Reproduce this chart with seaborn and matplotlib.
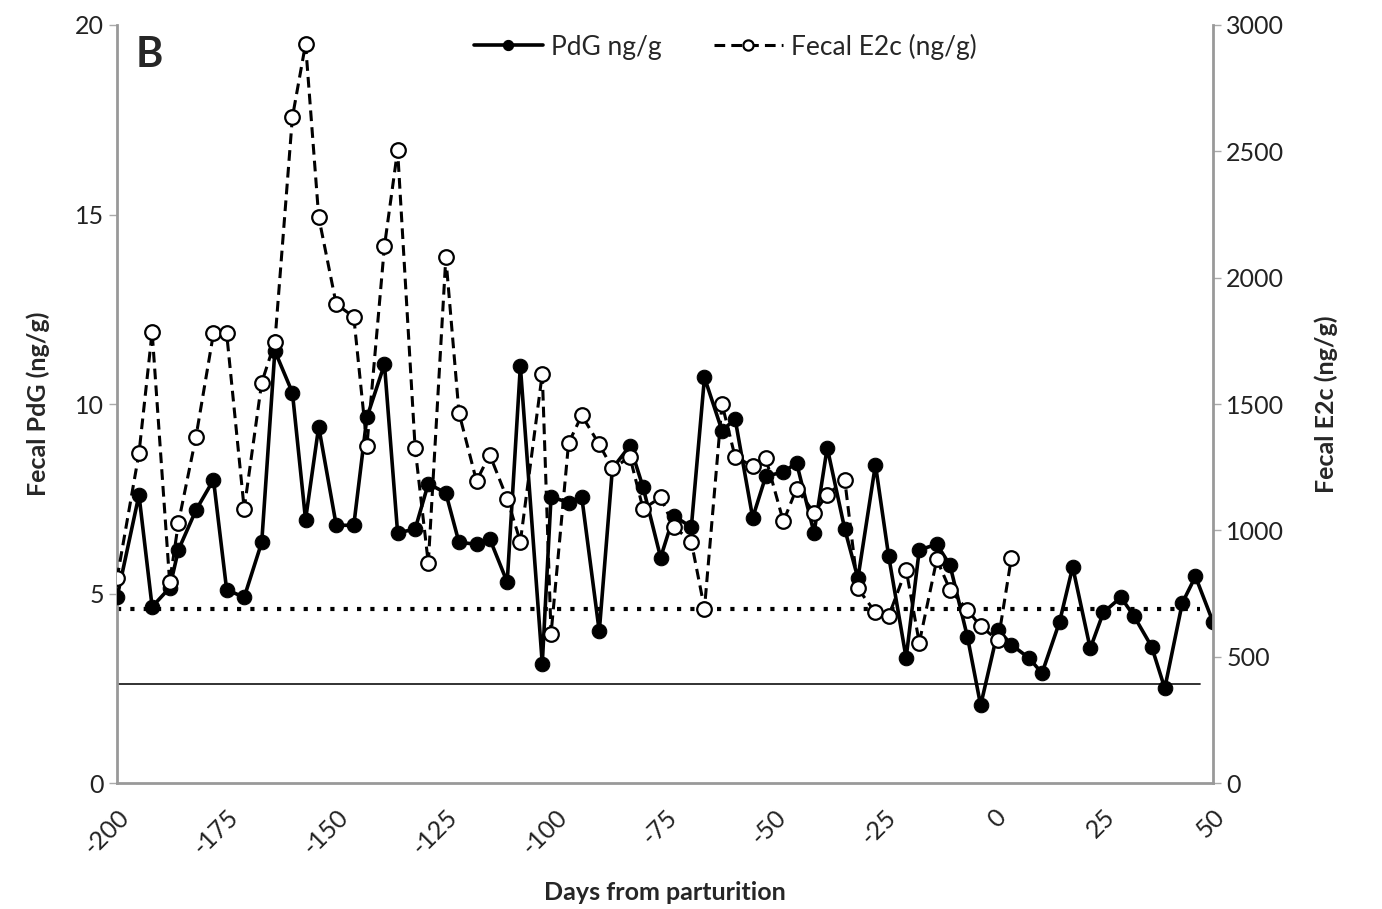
import matplotlib
matplotlib.use("Agg")
import matplotlib.pyplot as plt
import pandas as pd
import seaborn as sns

# sampling days (days from parturition)
days = [-200, -195, -192, -188, -186, -182, -178, -175, -171, -167,
        -164, -160, -157, -154, -150, -146, -143, -139, -136, -132,
        -129, -125, -122, -118, -115, -111, -108, -103, -101, -97,
        -94, -90, -87, -83, -80, -76, -73, -69, -66, -62,
        -59, -55, -52, -48, -45, -41, -38, -34, -31, -27,
        -24, -20, -17, -13, -10, -6, -3, 1, 4, 8,
        11, 15, 18, 22, 25, 29, 32, 36, 39, 43,
        46, 50]

pdg = [4.9, 7.6, 4.65, 5.15, 6.15, 7.2, 8.0, 5.1, 4.9, 6.35,
       11.4, 10.3, 6.95, 9.4, 6.8, 6.8, 9.65, 11.05, 6.6, 6.7,
       7.9, 7.65, 6.35, 6.3, 6.45, 5.3, 11.0, 3.15, 7.55, 7.4,
       7.55, 4.0, 8.3, 8.9, 7.8, 5.95, 7.05, 6.75, 10.7, 9.3,
       9.6, 7.0, 8.1, 8.2, 8.45, 6.6, 8.85, 6.7, 5.4, 8.4,
       6.0, 3.3, 6.15, 6.3, 5.75, 3.85, 2.05, 4.05, 3.65, 3.3,
       2.9, 4.25, 5.7, 3.55, 4.5, 4.9, 4.4, 3.6, 2.5, 4.75,
       5.45, 4.25]

# E2c only measured up to day 4
e2c = [810, 1305, 1785, 795, 1030, 1370, 1780, 1780, 1085, 1585,
       1745, 2635, 2925, 2240, 1895, 1845, 1335, 2125, 2505, 1325,
       870, 2080, 1465, 1195, 1300, 1125, 955, 1620, 590, 1345,
       1455, 1340, 1245, 1290, 1085, 1130, 1015, 955, 690, 1500,
       1290, 1255, 1285, 1035, 1165, 1070, 1140, 1200, 770, 675,
       660, 845, 555, 885, 765, 685, 620, 565, 890]

pdg_threshold = 4.6   # dotted line
pdg_baseline = 2.62   # thin solid line
line_days = [-200, 47]

sns.set_theme(style="white")
plt.rcParams["font.family"] = ["Lato", "DejaVu Sans"]
plt.rcParams["axes.unicode_minus"] = False

pdg_df = pd.DataFrame({"day": days, "value": pdg})
e2c_df = pd.DataFrame({"day": days[:len(e2c)], "value": e2c})

fig = plt.figure(figsize=(13.82, 9.09), dpi=100)
ax = fig.add_axes([0.0847, 0.1386, 0.793, 0.8339])
ax2 = ax.twinx()

ax.plot(line_days, [pdg_threshold] * 2, color="black", lw=3, ls=(0, (1, 2.2)), zorder=1)
ax.plot(line_days, [pdg_baseline] * 2, color="#222222", lw=1.3, zorder=1)

sns.lineplot(data=pdg_df, x="day", y="value", ax=ax, color="black", lw=2.6,
             marker="o", markersize=10.5, markerfacecolor="black",
             markeredgecolor="black", label="PdG ng/g", legend=False, zorder=3)
sns.lineplot(data=e2c_df, x="day", y="value", ax=ax2, color="black", lw=2.2,
             ls=(0, (3.5, 2)), marker="o", markersize=10.5, markerfacecolor="white",
             markeredgecolor="black", markeredgewidth=1.6,
             label="Fecal E2c (ng/g)", legend=False, zorder=2)

ax.set_xlim(-200, 50)
ax.set_ylim(0, 20)
ax2.set_ylim(0, 3000)
ax.set_xticks(range(-200, 51, 25))
ax.set_yticks([0, 5, 10, 15, 20])
ax2.set_yticks(range(0, 3001, 500))

for a in (ax, ax2):
    for s in a.spines.values():
        s.set_visible(False)
    a.tick_params(labelsize=18, colors="#222222", length=6, width=1, direction="out")
    a.tick_params(axis="both", color="#aaaaaa")

ax.spines["left"].set_visible(True)
ax.spines["bottom"].set_visible(True)
ax2.spines["right"].set_visible(True)
for s in (ax.spines["left"], ax.spines["bottom"], ax2.spines["right"]):
    s.set_color("#999999")
    s.set_linewidth(2)

ax.tick_params(axis="x", pad=10)
plt.setp(ax.get_xticklabels(), rotation=45, ha="right", rotation_mode="anchor")

ax.set_xlabel("Days from parturition", fontsize=18, fontweight="bold", labelpad=16)
ax.set_ylabel("Fecal PdG (ng/g)", fontsize=18, fontweight="bold", labelpad=18)
ax2.set_ylabel("Fecal E2c (ng/g)", fontsize=18, fontweight="bold", labelpad=22, rotation=90)

ax.text(0.017, 0.985, "B", transform=ax.transAxes, fontsize=30, fontweight="bold",
        va="top", ha="left")

h1, l1 = ax.get_legend_handles_labels()
h2, l2 = ax2.get_legend_handles_labels()
leg = ax.legend(h1 + h2, l1 + l2, loc="upper center", bbox_to_anchor=(0.555, 1.02),
                ncol=2, frameon=False, fontsize=19, handlelength=2.6,
                columnspacing=2.0, handletextpad=0.3, markerscale=0.7)

fig.savefig("out.png", dpi=100)
